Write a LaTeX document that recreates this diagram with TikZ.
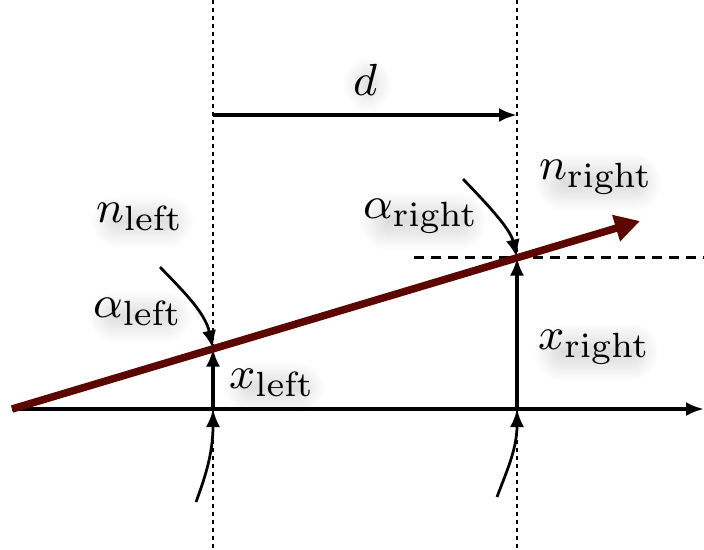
\documentclass[tikz,border=0pt]{standalone}
\usetikzlibrary{arrows.meta,shadows.blur}
\definecolor{raycol}{RGB}{92,6,0}
\begin{document}
\begin{tikzpicture}[x=0.2pt,y=-0.2pt,
  lbl/.style={inner sep=0pt,anchor=base west,font=\fontsize{9.5}{11}\selectfont},
  shad/.style={rounded corners=3pt,blur shadow={shadow blur steps=14,shadow blur radius=3.5pt,shadow xshift=0.6pt,shadow yshift=-1.2pt,shadow scale=0.85,shadow opacity=14}},
  guide/.style={line width=0.55pt,dash pattern=on 0.75pt off 0.85pt},
  hguide/.style={line width=0.65pt,dash pattern=on 2pt off 1.4pt},
  arr/.style={line width=0.75pt,-{Latex[length=3.6pt,width=2.8pt]}},
  carr/.style={line width=0.55pt,-{Latex[length=3.6pt,width=2.8pt]}},
  ray/.style={line width=1.5pt,draw=raycol,-{Triangle[length=5pt,width=5.2pt]}}]
\useasboundingbox (0,0) rectangle (704,549);
% coordinates
\coordinate (A) at (12,409);
\coordinate (T) at (640,221);
\coordinate (L) at (213,348.5);
\coordinate (R) at (517,257.5);
\coordinate (BL) at (213,409);
\coordinate (BR) at (517,409);
\coordinate (AE) at (704,409);
\coordinate (D1) at (213,115);
\coordinate (D2) at (517,115);
\coordinate (LT) at (213,0);
\coordinate (LB) at (213,549);
\coordinate (RT) at (517,0);
\coordinate (RB) at (517,549);
\coordinate (H1) at (414,257.5);
\coordinate (H2) at (704,257.5);
\coordinate (CL) at (160,267);
\coordinate (CR) at (463,179);
\coordinate (SL) at (196,502);
\coordinate (SR) at (497,497);
% guides
\draw[guide] (LT) -- (LB);
\draw[guide] (RT) -- (RB);
\draw[hguide] (H1) -- (H2);
% labels
\node[lbl,shad] (d) at (352,95) {$d$};
\node[lbl,shad] (nl) at (95,222) {$n_{\mathrm{left}}$};
\node[lbl,shad] (al) at (92,317) {$\alpha_{\mathrm{left}}$};
\node[lbl,shad] (xl) at (228,388) {$x_{\mathrm{left}}$};
\node[lbl,shad] (ar) at (362,218) {$\alpha_{\mathrm{right}}$};
\node[lbl,shad] (nr) at (538,179) {$n_{\mathrm{right}}$};
\node[lbl,shad] (xr) at (537,349) {$x_{\mathrm{right}}$};
% axis and arrows
\draw[arr] (A) -- (AE);
\draw[arr] (D1) -- (D2);
\draw[arr] (BL) -- (L);
\draw[arr] (BR) -- (R);
\draw[carr] (CL) .. controls (182,290) and (205,312) .. (L);
\draw[carr] (CR) .. controls (485,202) and (510,228) .. (R);
\draw[carr] (SL) .. controls (204,480) and (213,455) .. (BL);
\draw[carr] (SR) .. controls (505,475) and (517,450) .. (BR);
% ray
\draw[ray] (A) -- (T);
\end{tikzpicture}
\end{document}
